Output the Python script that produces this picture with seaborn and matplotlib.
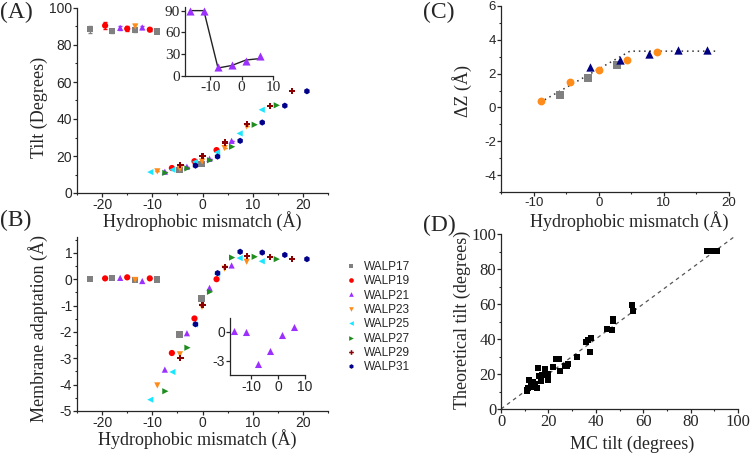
import matplotlib
matplotlib.use("Agg")
import matplotlib.pyplot as plt
import numpy as np
import pandas as pd
import seaborn as sns
from matplotlib.ticker import AutoMinorLocator, MultipleLocator

# ---------------- data ----------------
peptides = ["WALP17", "WALP19", "WALP21", "WALP23", "WALP25", "WALP27", "WALP29", "WALP31"]
colors = ["#808080", "#FF0000", "#9B30FF", "#FF8C1A", "#1AE6FF", "#1E8C1E", "#8B0000", "#00008B"]
markers = ["s", "o", "^", "v", "<", ">", "P", "h"]

x17 = [-22.4, -18.0, -13.5, -9.1, -4.6, -0.2]
x19 = [-19.4, -15.0, -10.5, -6.1, -1.6, 2.8]
x21 = [-16.4, -12.0, -7.5, -3.1, 1.4, 5.8]
x23 = [-13.4, -9.0, -4.5, -0.1, 4.4, 8.8]
x25 = [-10.4, -6.0, -1.5, 2.9, 7.4, 11.8]
x27 = [-7.4, -3.0, 1.5, 5.9, 10.4, 14.8]
x29 = [-4.4, 0.0, 4.5, 8.9, 13.4, 17.8]
x31 = [-1.4, 3.0, 7.5, 11.9, 16.4, 20.8]

tilt17 = [88.5, 87.6, 88.2, 87.3, 12.5, 15.5]
tilt19 = [90.5, 88.8, 88.3, 13.5, 17.2, 23.2]
tilt21 = [89.3, 89.5, 11.5, 14.2, 18.5, 28.2]
tilt23 = [90.0, 11.7, 13.0, 17.0, 24.3, 36.0]
tilt25 = [11.3, 12.6, 16.8, 22.0, 32.2, 45.0]
tilt27 = [10.9, 13.3, 17.7, 25.0, 36.9, 47.4]
tilt29 = [15.3, 19.8, 27.3, 37.3, 47.0, 55.3]
tilt31 = [14.8, 19.7, 28.2, 38.1, 47.2, 55.0]

err17 = [1.8, 1.2, 1.0, 0.8, 0, 0]
err19 = [1.8, 1.2, 1.0, 0, 0, 0]
err21 = [1.0, 1.0, 0, 0, 0, 0]
err23 = [1.2, 0, 0, 0, 0, 0]

adapt17 = [0.02, 0.05, -0.03, -0.01, -2.10, -0.73]
adapt19 = [0.03, 0.07, 0.03, -2.80, -1.49, 0.00]
adapt21 = [0.05, -0.07, -3.43, -2.05, -0.33, 0.52]
adapt23 = [-0.03, -4.03, -2.85, -1.05, 0.40, 0.66]
adapt25 = [-4.57, -3.52, -1.72, 0.20, 0.80, 0.68]
adapt27 = [-4.25, -2.60, -0.48, 0.82, 0.85, 0.76]
adapt29 = [-3.00, -0.98, 0.47, 0.89, 0.84, 0.76]
adapt31 = [-1.71, 0.23, 1.04, 1.01, 0.92, 0.76]

# inset data (WALP21)
insA_tilt = [90, 90, 12, 15, 20, 28]
insA_fit = [90, 90, 11, 14.5, 22, 24]
insB_adapt = [0.07, -0.03, -3.40, -2.00, -0.35, 0.52]

# panel C
c_sq_x = [-6.0, -1.6, 2.8]
c_sq_y = [0.75, 1.73, 2.49]
c_ci_x = [-8.9, -4.4, 0.0, 4.4, 8.9]
c_ci_y = [0.37, 1.51, 2.22, 2.78, 3.27]
c_tr_x = [-1.3, 3.2, 7.7, 12.2, 16.6]
c_tr_y = [2.39, 2.78, 3.18, 3.37, 3.37]
c_tr_err = [0.15, 0.15, 0.15, 0.15, 0.15]
c_fit_x = [-9.0, 4.8, 18.0]
c_fit_y = [0.30, 3.33, 3.33]

# panel D
mc_tilt = [87.0, 88.0, 89.0, 90.0, 91.0, 55.2, 55.5, 47.3, 47.3, 44.9, 47.0,
           38.0, 36.8, 35.8, 37.5, 32.0, 28.4, 27.7, 27.0, 24.6, 23.2, 24.9,
           22.0, 19.7, 19.7, 18.5, 17.3, 16.0, 15.7, 16.7, 15.3, 14.3, 13.6,
           12.5, 11.9, 11.5, 10.8, 11.1, 13.3]
theo_tilt = [90.3, 90.3, 90.3, 90.3, 90.3, 59.4, 56.0, 51.7, 50.4, 46.0, 45.4,
             40.6, 39.3, 38.4, 32.6, 29.8, 26.0, 24.6, 24.8, 28.8, 28.8, 21.8,
             24.0, 16.8, 20.2, 23.1, 19.7, 18.9, 23.7, 16.0, 12.0, 14.1, 15.5,
             13.5, 16.8, 12.2, 10.3, 11.0, 12.6]
diag = [0, 98]

# ---------------- build tables ----------------
xs = [x17, x19, x21, x23, x25, x27, x29, x31]
tilts = [tilt17, tilt19, tilt21, tilt23, tilt25, tilt27, tilt29, tilt31]
adapts = [adapt17, adapt19, adapt21, adapt23, adapt25, adapt27, adapt29, adapt31]
rows = []
for p, xv, tv, av in zip(peptides, xs, tilts, adapts):
    for a, b, c in zip(xv, tv, av):
        rows.append((p, a, b, c))
df = pd.DataFrame(rows, columns=["peptide", "mismatch", "tilt", "adapt"])
pal = dict(zip(peptides, colors))
mk = dict(zip(peptides, markers))

# ---------------- style ----------------
sns.set_style("ticks")
plt.rcParams["font.family"] = ["Liberation Sans", "DejaVu Sans"]
plt.rcParams["axes.unicode_minus"] = False
plt.rcParams["axes.linewidth"] = 0.9
plt.rcParams["xtick.major.size"] = 3
plt.rcParams["ytick.major.size"] = 3
plt.rcParams["xtick.minor.size"] = 1.7
plt.rcParams["ytick.minor.size"] = 1.7
plt.rcParams["xtick.major.width"] = 0.9
plt.rcParams["ytick.major.width"] = 0.9
plt.rcParams["xtick.minor.width"] = 0.8
plt.rcParams["ytick.minor.width"] = 0.8
SERIF = ["Liberation Serif", "DejaVu Serif"]
SANS = ["Liberation Sans", "DejaVu Sans"]

W, H = 751, 454
fig = plt.figure(figsize=(W / 100, H / 100), dpi=100)


def ax_px(l, t, r, b):
    return fig.add_axes([l / W, 1 - b / H, (r - l) / W, (b - t) / H])


def style(ax, tick_fs, tick_font, minor=True, pad=0.5):
    sns.despine(ax=ax)
    ax.tick_params(axis="both", which="both", direction="out", labelsize=tick_fs, pad=pad)
    for lab in ax.get_xticklabels() + ax.get_yticklabels():
        lab.set_family(tick_font)
    if minor:
        ax.xaxis.set_minor_locator(AutoMinorLocator(2))
        ax.yaxis.set_minor_locator(AutoMinorLocator(2))


def labels(ax, xl, yl, xc, yc):
    ax.set_xlabel(xl, family=SERIF, fontsize=13)
    ax.set_ylabel(yl, family=SERIF, fontsize=13)
    ax.xaxis.set_label_coords(*xc)
    ax.yaxis.set_label_coords(*yc)
    ax.xaxis.label.set_va("baseline")
    ax.yaxis.label.set_va("center")


MS = 20

# ---- Panel A ----
axA = ax_px(77, 8, 328, 193)
sns.scatterplot(data=df, x="mismatch", y="tilt", hue="peptide", style="peptide",
                palette=pal, markers=mk, s=MS, linewidth=0, ax=axA, legend=False, zorder=3)
for xv, tv, ev, c in zip([x17, x19, x21, x23], [tilt17, tilt19, tilt21, tilt23],
                         [err17, err19, err21, err23], colors):
    axA.errorbar(xv, tv, yerr=ev, fmt="none", ecolor=c, elinewidth=0.8, capsize=1.5, zorder=2)
axA.set_xlim(-25, 25)
axA.set_ylim(0, 100)
axA.xaxis.set_major_locator(MultipleLocator(10))
axA.yaxis.set_major_locator(MultipleLocator(20))
style(axA, 10, SANS)
labels(axA, "Hydrophobic mismatch (Å)", "Tilt (Degrees)", (0.5, -0.185), (-0.149, 0.465))

# inset A
axIA = ax_px(185, 7, 273, 76)
sns.lineplot(x=x21, y=insA_fit, color="#222222", lw=1.0, ax=axIA, zorder=2)
sns.scatterplot(x=x21, y=insA_tilt, color=colors[2], marker="^", s=34, linewidth=0, ax=axIA, zorder=3)
axIA.set_xlim(-18, 10)
axIA.set_ylim(0, 95)
axIA.xaxis.set_major_locator(MultipleLocator(10))
axIA.yaxis.set_major_locator(MultipleLocator(30))
style(axIA, 11, SERIF, minor=False)
axIA.patch.set_alpha(0)

# ---- Panel B ----
axB = ax_px(77, 237, 328, 411)
sns.scatterplot(data=df, x="mismatch", y="adapt", hue="peptide", style="peptide",
                palette=pal, markers=mk, s=MS, linewidth=0, ax=axB, legend=True, zorder=3)
axB.set_xlim(-25, 25)
axB.set_ylim(-5, 1.6)
axB.xaxis.set_major_locator(MultipleLocator(10))
axB.yaxis.set_major_locator(MultipleLocator(1))
style(axB, 10, SANS)
labels(axB, "Hydrophobic mismatch (Å)", "Membrane adaptation (Å)", (0.478, -0.197), (-0.157, 0.476))

leg = axB.get_legend()
handles = leg.legend_handles
labs = [t.get_text() for t in leg.get_texts()]
leg.remove()
fig.legend(handles, labs, loc="upper left", bbox_to_anchor=(338 / W, 1 - 255 / H),
           frameon=False, prop={"family": SANS, "size": 8.5}, handletextpad=0.5,
           labelspacing=0.2, handlelength=1.2, markerscale=0.75, borderpad=0)

# inset B
axIB = ax_px(230, 318, 305, 375)
sns.scatterplot(x=x21, y=insB_adapt, color=colors[2], marker="^", s=26, linewidth=0, ax=axIB)
axIB.set_xlim(-18, 10)
axIB.set_ylim(-4.5, 1.4)
axIB.xaxis.set_major_locator(MultipleLocator(10))
axIB.yaxis.set_major_locator(MultipleLocator(3))
style(axIB, 10, SANS, minor=False)
axIB.patch.set_alpha(0)

# ---- Panel C ----
axC = ax_px(501, 6, 729, 192)
sns.lineplot(x=c_fit_x, y=c_fit_y, color="#333333", lw=1.1, linestyle=(0, (1, 2.5)), ax=axC, zorder=1)
axC.errorbar(c_tr_x, c_tr_y, yerr=c_tr_err, fmt="none", ecolor="#000080", elinewidth=0.8, zorder=2)
sns.scatterplot(x=c_sq_x, y=c_sq_y, color="#808080", marker="s", s=26, linewidth=0, ax=axC, zorder=3)
sns.scatterplot(x=c_ci_x, y=c_ci_y, color="#FF8C1A", marker="o", s=32, linewidth=0, ax=axC, zorder=3)
sns.scatterplot(x=c_tr_x, y=c_tr_y, color="#000080", marker="^", s=36, linewidth=0, ax=axC, zorder=3)
axC.set_xlim(-15, 20)
axC.set_ylim(-5, 6)
axC.xaxis.set_major_locator(MultipleLocator(10))
axC.yaxis.set_major_locator(MultipleLocator(2))
style(axC, 9.5, SANS)
labels(axC, "Hydrophobic mismatch (Å)", "ΔZ (Å)", (0.561, -0.188), (-0.171, 0.543))

# ---- Panel D ----
axD = ax_px(501, 234, 738, 409)
sns.lineplot(x=diag, y=diag, color="#555555", lw=0.9, linestyle=(0, (3, 3)), ax=axD, zorder=1)
sns.scatterplot(x=mc_tilt, y=theo_tilt, color="black", marker="s", s=14, linewidth=0, ax=axD, zorder=3)
axD.set_xlim(0, 100)
axD.set_ylim(0, 100)
axD.xaxis.set_major_locator(MultipleLocator(20))
axD.yaxis.set_major_locator(MultipleLocator(20))
style(axD, 12, SERIF)
labels(axD, "MC tilt (degrees)", "Theoretical tilt (degrees)", (0.552, -0.229), (-0.164, 0.508))

# panel letters
for lab, x, y in [("(A)", 0, 2), ("(B)", 0, 210), ("(C)", 423, 2), ("(D)", 423, 215)]:
    fig.text(x / W, 1 - y / H, lab, family=SERIF, fontsize=17, va="top", ha="left")

fig.savefig("out.png", dpi=100)
